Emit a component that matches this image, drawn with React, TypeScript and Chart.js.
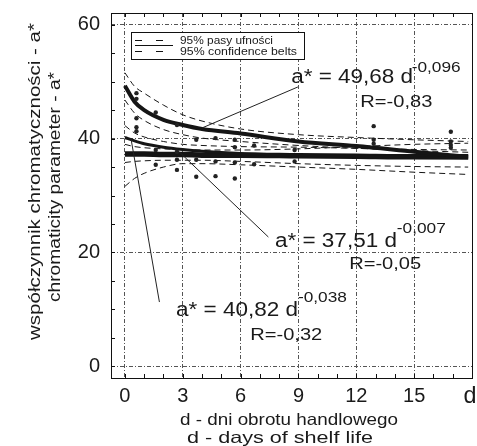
import React, { useEffect, useRef } from 'react';
import { Chart, registerables } from 'chart.js';

Chart.register(...registerables);

const FONT = '"Liberation Sans", Arial, sans-serif';

// axis ticks
const xTicks = [0, 3, 6, 9, 12, 15, 18];
const yTicks = [0, 20, 40, 60];

// measured points (shelf-life day, a*)
const pointsX = [0.6, 0.6, 0.6, 0.6, 0.6, 1.6, 1.6, 1.6, 2.7, 2.7, 2.7, 2.7, 3.7, 3.7, 3.7, 4.7, 4.7, 4.7, 5.7, 5.7, 5.7, 5.7, 6.7, 6.7, 8.8, 8.8, 12.9, 12.9, 12.9, 16.9, 16.9, 16.9, 16.9];
const pointsY = [48.0, 47.0, 43.6, 42.0, 41.3, 44.6, 38.0, 35.4, 42.4, 37.7, 36.3, 34.5, 39.8, 36.3, 33.3, 40.1, 36.0, 33.4, 39.8, 38.5, 35.8, 33.0, 38.8, 35.5, 38.0, 36.0, 42.2, 39.8, 39.1, 41.2, 39.5, 38.9, 38.4];

// fitted curves
const fitX = [0, 0.5, 1, 2, 3, 4, 6, 9, 12, 15, 17.8];
const curveA = [49.3, 46.5, 45.0, 43.3, 42.4, 41.7, 40.9, 39.5, 38.7, 37.7, 36.8];
const curveB = [40.2, 39.6, 39.1, 38.5, 38.1, 37.8, 37.4, 37.1, 36.9, 36.7, 36.6];
const curveC = [37.3, 37.3, 37.3, 37.2, 37.2, 37.1, 37.1, 37.0, 36.9, 36.8, 36.8];

// 95% confidence belts
const aUpper = [51.6, 49.2, 48.0, 45.9, 44.2, 43.1, 41.7, 40.7, 40.2, 39.8, 39.5];
const aLower = [46.8, 44.5, 43.2, 41.6, 40.7, 40.1, 39.5, 38.8, 38.3, 37.9, 37.6];
const bUpper = [42.3, 41.0, 40.3, 39.5, 39.0, 38.8, 38.6, 38.5, 38.3, 38.1, 38.0];
const bLower = [31.6, 33.0, 33.9, 35.0, 35.6, 35.6, 35.4, 35.0, 34.6, 34.1, 33.7];
const cUpper = [39.0, 38.6, 38.4, 38.2, 38.1, 38.0, 38.0, 38.2, 38.6, 39.0, 39.2];
const cLower = [35.8, 36.0, 36.1, 36.2, 36.2, 36.2, 36.0, 35.6, 35.3, 35.1, 35.0];

const legendLabels = ['95% pasy ufności', '95% confidence belts'];
const yTitle = ['współczynnik chromatyczności - a*', 'chromaticity parameter - a*'];
const xTitle = ['d - dni obrotu handlowego', 'd - days of shelf life'];

// equation labels, anchored in data units
const equations = [
  { main: 'a* = 49,68 d', sup: '-0,096', r: 'R=-0,83', at: [8.62, 49.8], supAt: [14.87, 51.7], rAt: [12.21, 45.5], from: [8.97, 49.09], to: [4.0, 41.88] },
  { main: 'a* = 37,51 d', sup: '-0,007', r: 'R=-0,05', at: [7.78, 21.0], supAt: [14.1, 23.4], rAt: [11.63, 17.07], from: [7.44, 22.7], to: [2.82, 37.66] },
  { main: 'a* = 40,82 d', sup: '-0,038', r: 'R=-0,32', at: [2.65, 8.85], supAt: [8.97, 11.3], rAt: [6.5, 4.58], from: [1.79, 11.26], to: [0.31, 40.12] },
];

const toXY = (xs: number[], ys: number[]) => xs.map((x, i) => ({ x, y: ys[i] }));

function stretchText(ctx: CanvasRenderingContext2D, text: string, x: number, y: number, size: number, width: number, align: 'left' | 'center' = 'left', baseline: CanvasTextBaseline = 'alphabetic', rotate = 0) {
  ctx.save();
  ctx.font = `${size}px ${FONT}`;
  const w = ctx.measureText(text).width;
  const sx = width / w;
  ctx.translate(x, y);
  if (rotate) ctx.rotate(rotate);
  ctx.scale(sx, 1);
  ctx.textAlign = align;
  ctx.textBaseline = baseline;
  ctx.fillStyle = '#1a1a1a';
  ctx.fillText(text, 0, 0);
  ctx.restore();
}

const decorPlugin = {
  id: 'decor',
  afterDraw(chart: any) {
    const { ctx, chartArea: a, scales } = chart;
    const xs = scales.x;
    const ys = scales.y;
    ctx.save();
    // frame
    ctx.strokeStyle = '#111';
    ctx.lineWidth = 1;
    ctx.setLineDash([]);
    ctx.strokeRect(Math.round(a.left) + 0.5, Math.round(a.top) + 0.5, Math.round(a.right - a.left) - 1, Math.round(a.bottom - a.top));
    // minor ticks inward
    ctx.beginPath();
    for (let v = 0; v <= 18; v++) {
      const px = Math.round(xs.getPixelForValue(v)) + 0.5;
      ctx.moveTo(px, a.bottom); ctx.lineTo(px, a.bottom - 4);
      ctx.moveTo(px, a.top); ctx.lineTo(px, a.top + 4);
    }
    for (let v = 0; v <= 60; v += 5) {
      const py = Math.round(ys.getPixelForValue(v)) + 0.5;
      ctx.moveTo(a.left, py); ctx.lineTo(a.left + 4, py);
    }
    ctx.stroke();

    // last x label
    stretchText(ctx, 'd', 470, 396, 24, 13, 'center', 'middle');

    // axis titles
    stretchText(ctx, yTitle[0], 35, 181.5, 16.5, 317, 'center', 'middle', -Math.PI / 2);
    stretchText(ctx, yTitle[1], 55, 187, 16.5, 230, 'center', 'middle', -Math.PI / 2);
    stretchText(ctx, xTitle[0], 289, 420, 16.5, 218, 'center', 'middle');
    stretchText(ctx, xTitle[1], 280, 438, 16.5, 186, 'center', 'middle');

    // legend box
    ctx.fillStyle = '#fff';
    ctx.fillRect(131.5, 32.5, 173, 27);
    ctx.strokeStyle = '#111';
    ctx.strokeRect(131.5, 32.5, 173, 27);
    ctx.beginPath();
    ctx.setLineDash([7, 14]);
    ctx.moveTo(135, 40.5); ctx.lineTo(173, 40.5);
    ctx.moveTo(135, 51.5); ctx.lineTo(173, 51.5);
    ctx.stroke();
    ctx.setLineDash([]);
    ctx.beginPath();
    ctx.moveTo(135, 45.5); ctx.lineTo(173, 45.5);
    ctx.stroke();
    stretchText(ctx, legendLabels[0], 180, 40.5, 11.5, 93, 'left', 'middle');
    stretchText(ctx, legendLabels[1], 180, 51.5, 11.5, 117, 'left', 'middle');

    // equations with leader lines
    ctx.strokeStyle = '#222';
    ctx.lineWidth = 1;
    for (const e of equations) {
      ctx.beginPath();
      ctx.moveTo(xs.getPixelForValue(e.from[0]), ys.getPixelForValue(e.from[1]));
      ctx.lineTo(xs.getPixelForValue(e.to[0]), ys.getPixelForValue(e.to[1]));
      ctx.stroke();
      stretchText(ctx, e.main, xs.getPixelForValue(e.at[0]), ys.getPixelForValue(e.at[1]), 19.5, 122);
      stretchText(ctx, e.sup, xs.getPixelForValue(e.supAt[0]), ys.getPixelForValue(e.supAt[1]), 14.5, 49);
      stretchText(ctx, e.r, xs.getPixelForValue(e.rAt[0]), ys.getPixelForValue(e.rAt[1]), 16, 72);
    }
    ctx.restore();
  },
};

export default function App() {
  const ref = useRef<HTMLCanvasElement | null>(null);
  useEffect(() => {
    if (!ref.current) return;
    const line = (data: number[], width: number, dash: number[] = []) => ({
      data: toXY(fitX, data),
      showLine: true,
      borderColor: '#151515',
      borderWidth: width,
      borderDash: dash,
      pointRadius: 0,
      cubicInterpolationMode: 'monotone' as const,
      fill: false,
    });
    const noPad = (s: any) => {
      s.paddingTop = 0; s.paddingBottom = 0; s.paddingLeft = 0; s.paddingRight = 0;
    };
    const chart = new Chart(ref.current, {
      type: 'scatter',
      data: {
        datasets: [
          {
            data: toXY(pointsX, pointsY),
            pointRadius: 2.2,
            pointBackgroundColor: '#222',
            pointBorderColor: '#222',
            pointBorderWidth: 0,
            showLine: false,
          } as any,
          line(curveA, 4),
          line(curveB, 3),
          line(curveC, 5.5),
          line(aUpper, 1, [6, 4]),
          line(aLower, 1, [6, 4]),
          line(bUpper, 1, [6, 4]),
          line(bLower, 1, [6, 4]),
          line(cUpper, 1, [6, 4]),
          line(cLower, 1, [6, 4]),
        ],
      },
      options: {
        animation: false,
        responsive: false,
        devicePixelRatio: 1,
        layout: { padding: { left: 0, right: 0, top: 13, bottom: 0 } },
        plugins: { legend: { display: false }, tooltip: { enabled: false } },
        scales: {
          x: {
            type: 'linear',
            min: -0.72,
            max: 18.05,
            afterFit: (s: any) => { s.height = 68; noPad(s); },
            afterBuildTicks: (s: any) => { s.ticks = xTicks.map((v) => ({ value: v })); },
            ticks: {
              padding: 6,
              color: '#1a1a1a',
              font: { family: FONT, size: 20 },
              callback: (v: any) => (v === 18 ? '' : String(v)),
            },
            grid: { color: '#555', lineWidth: 1, drawTicks: false },
            border: { display: false, dash: [4, 2, 1, 2] },
          },
          y: {
            type: 'linear',
            min: -2.1,
            max: 62.1,
            afterFit: (s: any) => { s.width = 111; noPad(s); },
            afterBuildTicks: (s: any) => { s.ticks = yTicks.map((v) => ({ value: v })); },
            ticks: {
              padding: 11,
              color: '#1a1a1a',
              font: { family: FONT, size: 20 },
              callback: (v: any) => String(v),
            },
            grid: { color: '#555', lineWidth: 1, drawTicks: false },
            border: { display: false, dash: [4, 2, 1, 2] },
          },
        },
      } as any,
      plugins: [decorPlugin],
    });
    return () => chart.destroy();
  }, []);
  return (
    <div style={{ position: 'absolute', left: 0, top: 0, width: 477, height: 446, background: '#fff' }}>
      <canvas ref={ref} width={477} height={446} />
    </div>
  );
}
